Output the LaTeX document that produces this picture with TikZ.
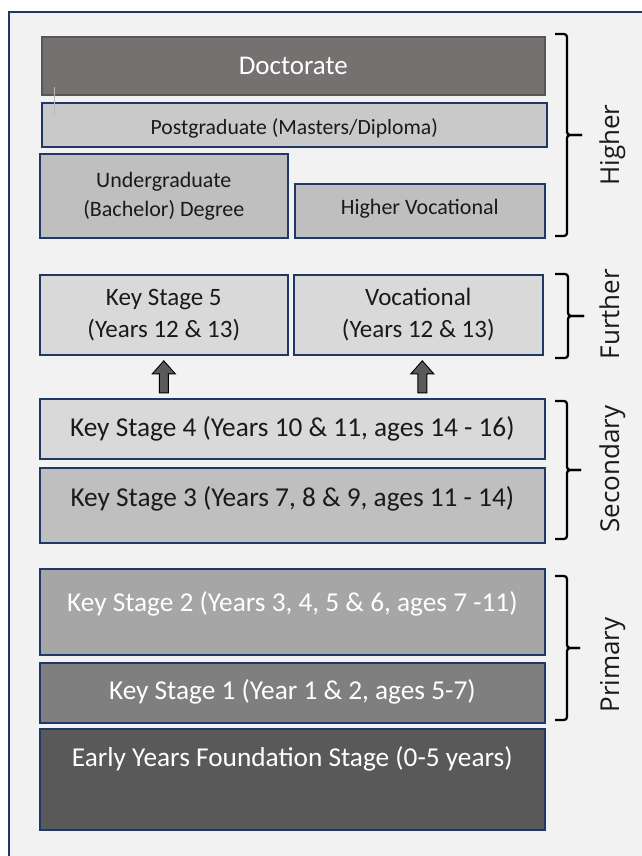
\documentclass[tikz,border=0pt]{standalone}
\usepackage{fontspec}
\setmainfont{Carlito}
\newfontfamily\labelfont{Open Sans}
\usetikzlibrary{calc}
\definecolor{navy}{HTML}{1F3864}
\definecolor{bgc}{HTML}{F2F2F2}
\definecolor{docfill}{HTML}{767171}
\definecolor{docline}{HTML}{5A5656}
\definecolor{pgfill}{HTML}{C9C9C9}
\definecolor{midfill}{HTML}{BFBFBF}
\definecolor{lightfill}{HTML}{D9D9D9}
\definecolor{ktwofill}{HTML}{A6A6A6}
\definecolor{konefill}{HTML}{7F7F7F}
\definecolor{eyfill}{HTML}{595959}
\definecolor{txt}{HTML}{1A1A1A}
\definecolor{arrfill}{HTML}{5A5A5A}
\begin{document}
\begin{tikzpicture}[x=1pt,y=-1pt,
  box/.style={draw=navy, line width=1.6pt, inner sep=0pt, anchor=north west, text=txt},
  twoline/.style={box, align=center},
  bigtext/.style={font=\fontsize{27.3}{30}\selectfont},
  brk/.style={draw=black, line width=2.3pt, rounded corners=3pt},
  sidelabel/.style={font=\labelfont\fontsize{26}{30}\selectfont, rotate=90, anchor=base, text=txt},
  blk/.style={draw=black, line width=0.9pt, fill=arrfill, line join=miter}]
\useasboundingbox (0,0) rectangle (642,856);
% frame
\fill[white] (0,0) rectangle (642,856);
\fill[bgc] (9,12) rectangle (642,856);
\draw[navy, line width=1.8pt] (9,856) -- (9,12) -- (642,12);

% Higher
\node[box, draw=docline, fill=docfill, text=white, minimum width=503pt,
  text height=37.6pt, text depth=20.4pt, font=\fontsize{27}{30}\selectfont] (doc) at (41,36) {Doctorate};
\node[box, fill=pgfill, minimum width=505pt, text height=32pt, text depth=12pt,
  font=\fontsize{21.7}{24}\selectfont] (pg) at (41,102) {Postgraduate (Masters/Diploma)};
\draw[gray!55, line width=0.6pt] (54,87) -- (54,115);
\node[twoline, fill=midfill, minimum width=248pt, minimum height=84pt,
  font=\fontsize{22}{29}\selectfont] (ug) at (39,153) {Undergraduate\\(Bachelor) Degree};
\node[box, fill=midfill, minimum width=250pt, text height=31pt, text depth=23pt,
  font=\fontsize{22}{24}\selectfont] (hv) at (294,183) {Higher Vocational};

% Further
\node[twoline, fill=lightfill, minimum width=248pt, minimum height=80pt,
  font=\fontsize{25}{32}\selectfont] (ks5) at (39,274) {Key Stage 5\\(Years 12 \& 13)};
\node[twoline, fill=lightfill, minimum width=249pt, minimum height=80pt,
  font=\fontsize{25}{32}\selectfont] (voc) at (293,274) {Vocational\\(Years 12 \& 13)};

% Secondary
\node[box, bigtext, fill=lightfill, minimum width=505pt, text height=37.7pt, text depth=22.3pt]
  (ks4) at (39,398) {Key Stage 4 (Years 10 \& 11, ages 14 - 16)};
\node[box, bigtext, fill=midfill, minimum width=505pt, text height=38.7pt, text depth=36.3pt]
  (ks3) at (39,467) {Key Stage 3 (Years 7, 8 \& 9, ages 11 - 14)};

% Primary
\node[box, bigtext, fill=ktwofill, text=white, minimum width=505pt, text height=42.7pt, text depth=43.3pt]
  (ks2) at (39,568) {Key Stage 2 (Years 3, 4, 5 \& 6, ages 7 -11)};
\node[box, bigtext, fill=konefill, text=white, minimum width=505pt, text height=36.7pt, text depth=23.3pt]
  (ks1) at (39,662) {Key Stage 1 (Year 1 \& 2, ages 5-7)};
\node[box, bigtext, fill=eyfill, text=white, minimum width=505pt, text height=37.7pt, text depth=63.3pt]
  (eyfs) at (39,728) {Early Years Foundation Stage (0-5 years)};

% arrows between secondary and further
\coordinate (a1) at ($(ks5.south)!0.5!(ks5.south |- ks4.north)$);
\coordinate (a2) at ($(voc.south)!0.5!(voc.south |- ks4.north)+(4,0)$);
\foreach \c in {a1,a2}{
  \draw[blk] (\c) ++(-4.5,16) -- ++(0,-19) -- ++(-7,0) -- ++(11.5,-13) -- ++(11.5,13) -- ++(-7,0) -- ++(0,19) -- cycle;
}

% brackets
\coordinate (hT) at (555,34);  \coordinate (hM) at (582,135); \coordinate (hB) at (555,236);
\draw[brk] (hT) -| (567,135) -- (hM);
\draw[brk] (hM) -- (567,135) |- (hB);
\node[sidelabel] (lhigher) at (619,145) {Higher};

\coordinate (fT) at (555,274);  \coordinate (fM) at (584,316); \coordinate (fB) at (555,358);
\draw[brk] (fT) -| (568,316) -- (fM);
\draw[brk] (fM) -- (568,316) |- (fB);
\node[sidelabel] (lfurther) at (619,314) {Further};

\coordinate (sT) at (555,401);  \coordinate (sM) at (581,470); \coordinate (sB) at (555,539);
\draw[brk] (sT) -| (567,470) -- (sM);
\draw[brk] (sM) -- (567,470) |- (sB);
\node[sidelabel] (lsecondary) at (619,469) {Secondary};

\coordinate (pT) at (555,576);  \coordinate (pM) at (580,648); \coordinate (pB) at (555,720);
\draw[brk] (pT) -| (567,648) -- (pM);
\draw[brk] (pM) -- (567,648) |- (pB);
\node[sidelabel] (lprimary) at (619,665) {Primary};
\end{tikzpicture}
\end{document}
